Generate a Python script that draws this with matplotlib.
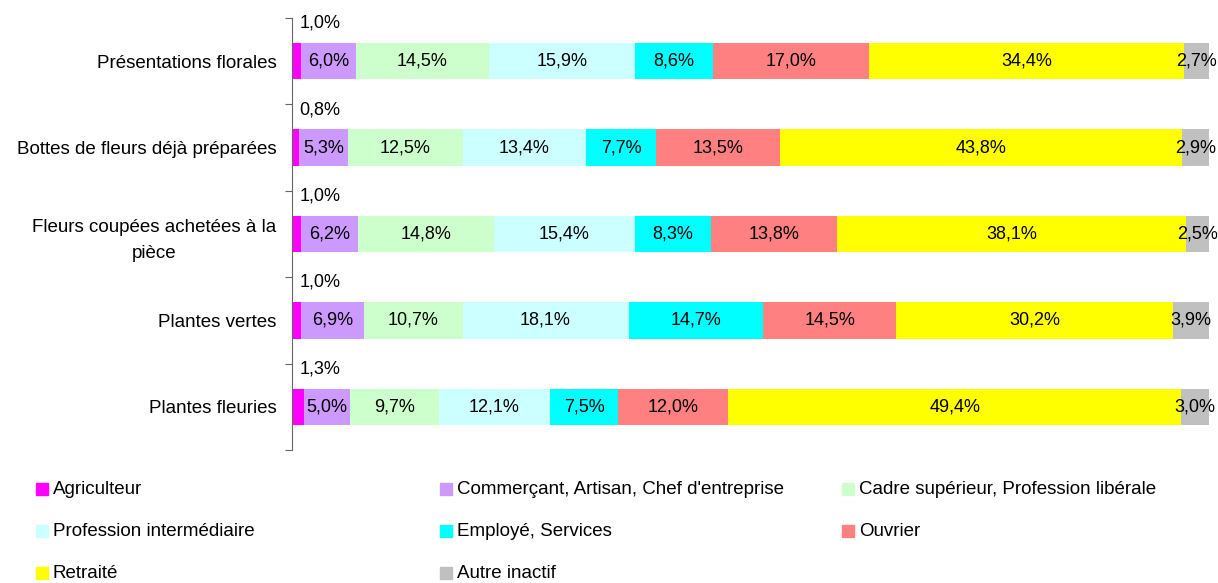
"""Stacked 100% bar chart: buyers of flowers/plants by social category"""
import numpy as np
import matplotlib.pyplot as plt
from matplotlib.patches import Rectangle

plt.rcParams['font.family'] = ['Liberation Sans', 'DejaVu Sans']

# data
products = ['Présentations florales', 'Bottes de fleurs déjà préparées',
            'Fleurs coupées achetées à la\npièce', 'Plantes vertes', 'Plantes fleuries']
categories = ['Agriculteur', 'Commerçant, Artisan, Chef d\'entreprise',
              'Cadre supérieur, Profession libérale', 'Profession intermédiaire',
              'Employé, Services', 'Ouvrier', 'Retraité', 'Autre inactif']
agriculteur = [1.0, 0.8, 1.0, 1.0, 1.3]
commercant = [6.0, 5.3, 6.2, 6.9, 5.0]
cadre = [14.5, 12.5, 14.8, 10.7, 9.7]
intermediaire = [15.9, 13.4, 15.4, 18.1, 12.1]
employe = [8.6, 7.7, 8.3, 14.7, 7.5]
ouvrier = [17.0, 13.5, 13.8, 14.5, 12.0]
retraite = [34.4, 43.8, 38.1, 30.2, 49.4]
inactif = [2.7, 2.9, 2.5, 3.9, 3.0]
colors = ['#FF00FF', '#CC99FF', '#CCFFCC', '#CCFFFF', '#00FFFF', '#FF8080', '#FFFF00', '#C0C0C0']

values = np.array([agriculteur, commercant, cadre, intermediaire,
                   employe, ouvrier, retraite, inactif])
# 100% stacked: normalise each bar
shares = values / values.sum(axis=0) * 100

fs = 13

fig = plt.figure(figsize=(12.18, 5.83), dpi=100)
ax = fig.add_axes([292 / 1218, 1 - 450 / 583, 917 / 1218, 432 / 583])

y = np.arange(len(products))
left = np.zeros(len(products))
for i, cat in enumerate(categories):
    ax.barh(y, shares[i], left=left, height=0.42, color=colors[i], label=cat)
    for j in range(len(products)):
        label = f'{values[i, j]:.1f}%'.replace('.', ',')
        if i == 0:
            ax.text(0.8, y[j] - 0.44, label, ha='left', va='center', fontsize=fs)
        else:
            ax.text(left[j] + shares[i, j] / 2, y[j], label,
                    ha='center', va='center', fontsize=fs)
    left += shares[i]

ax.set_xlim(0, 100)
ax.set_ylim(len(products) - 0.5, -0.5)
ax.set_xticks([])
ax.set_yticks(np.arange(-0.5, len(products)), labels=[''] * (len(products) + 1))
ax.set_yticks(y, labels=products, minor=True)
ax.tick_params(axis='y', which='major', length=5, color='#666666')
ax.tick_params(axis='y', which='minor', length=0, pad=11, labelsize=13.5)
for lab in ax.get_yticklabels(minor=True):
    lab.set_multialignment('center')
    lab.set_linespacing(1.7)
for side in ['top', 'right', 'bottom']:
    ax.spines[side].set_visible(False)
ax.spines['left'].set_color('#666666')

# legend drawn by hand in 3 columns
col_x = [36, 440, 842]
row_y = [489, 531, 573]
for k, cat in enumerate(categories):
    cx = col_x[k % 3]
    cy = row_y[k // 3]
    fig.patches.append(Rectangle((cx / 1218, 1 - (cy + 6) / 583), 12 / 1218, 12 / 583,
                                 transform=fig.transFigure, color=colors[k]))
    fig.text((cx + 17) / 1218, 1 - cy / 583, cat, ha='left', va='center', fontsize=13.5)

fig.savefig('out.png', dpi=100)
